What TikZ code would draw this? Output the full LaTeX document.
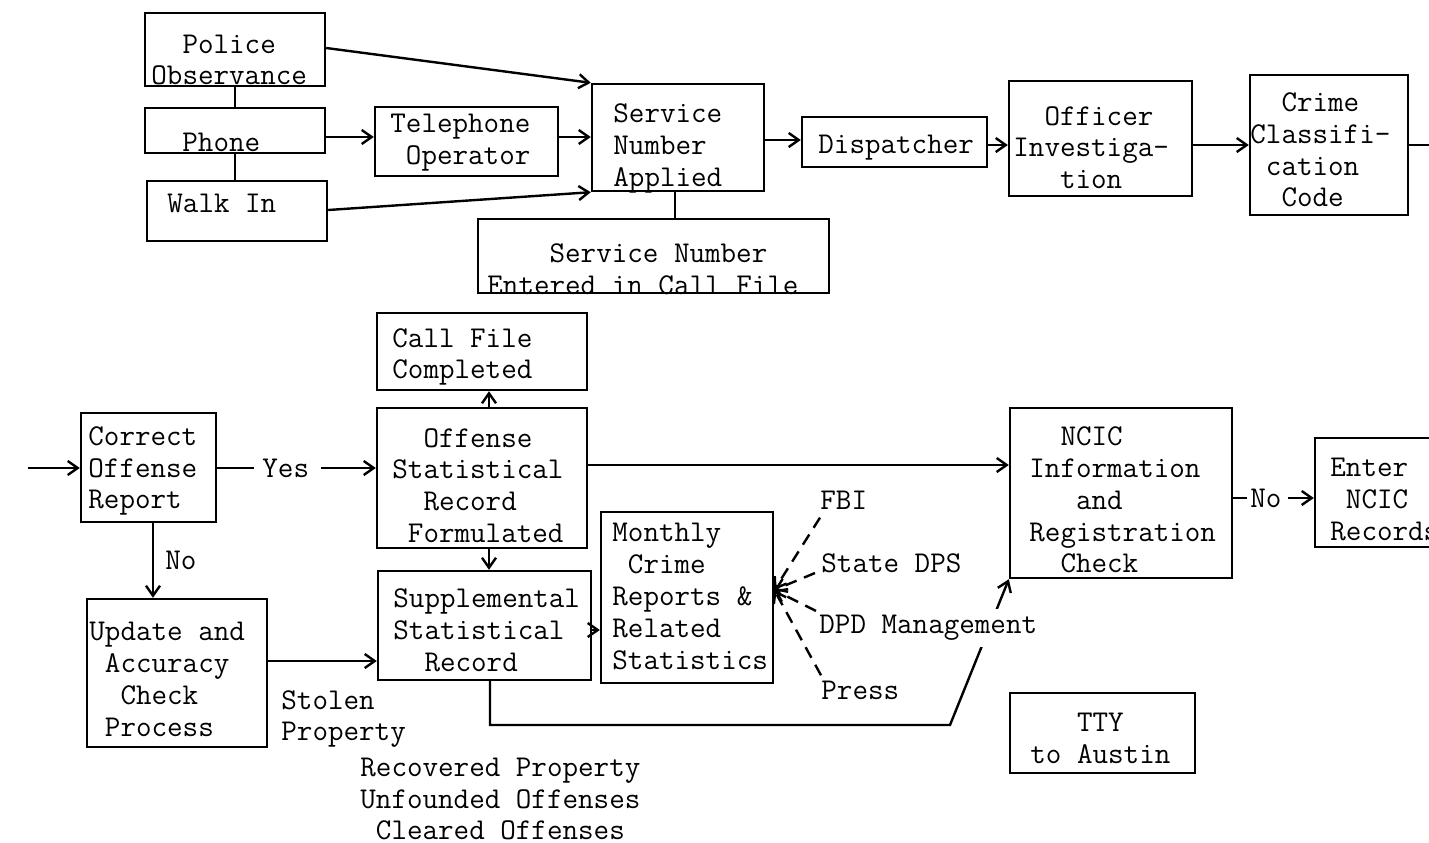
\documentclass[tikz,border=0pt]{standalone}
\usepackage{fontspec}
\usetikzlibrary{arrows.meta,fit}
\tikzset{
  box/.style={draw, line width=1.2pt, inner sep=0pt},
  txt/.style={font=\ttfamily\fontsize{15.1pt}{15.9pt}\selectfont, align=left, anchor=west, inner sep=0pt},
  conn/.style={line width=1.2pt},
  arr/.style={line width=1.2pt, -{Straight Barb[length=5pt,width=7pt]}},
  dasharr/.style={arr, dash pattern=on 6pt off 4pt},
}
\begin{document}
\begin{tikzpicture}[x=0.5pt,y=-0.5pt]
\fill[white] (0,0) rectangle (1429,842);
\useasboundingbox (0,0) rectangle (1429,842);

% ---------- boxes ----------
\node[box, fit={(145,13)(325,86)}] (police) {};
\node[box, fit={(145,108)(325,153)}] (phone) {};
\node[box, fit={(147,181)(327,241)}] (walk) {};
\node[box, fit={(375,107)(558,176)}] (telop) {};
\node[box, fit={(592,84)(764,191)}] (sna) {};
\node[box, fit={(478,219)(829,293)}] (snentered) {};
\node[box, fit={(802,117)(987,167)}] (disp) {};
\node[box, fit={(1009,81)(1192,196)}] (officer) {};
\node[box, fit={(1250,75)(1408,215)}] (crime) {};
\node[box, fit={(81,413)(216,522)}] (correct) {};
\node[box, fit={(377,313)(587,390)}] (callfile) {};
\node[box, fit={(377,408)(587,548)}] (offense) {};
\node[box, fit={(378,571)(591,680)}] (supp) {};
\node[box, fit={(601,512)(773,683)}] (monthly) {};
\node[box, fit={(87,599)(267,747)}] (update) {};
\node[box, fit={(1010,408)(1232,578)}] (ncic) {};
\node[box, fit={(1315,438)(1480,547)}] (enter) {};
\node[box, fit={(1010,693)(1195,773)}] (tty) {};

% ---------- texts ----------
\node[txt] (police-t) at (151,60) {\hphantom{xx}Police\\Observance};
\node[txt] (phone-t) at (182,142) {Phone};
\node[txt] (walk-t) at (167,203) {Walk In};
\node[txt] (telop-t) at (390,142.5) {Telephone\\\hphantom{x}Operator};
\node[txt] (sna-t) at (613,148.5) {Service\\Number\\Applied};
\node[txt] (snentered-t) at (487,269) {\hphantom{xxxx}Service Number\\Entered in Call File};
\node[txt] (disp-t) at (818,148) {Dispatcher};
\node[txt] (officer-t) at (1013,147.5) {\hphantom{xx}Officer\\Investiga-\\\hphantom{xxx}tion};
\node[txt] (crime-t) at (1250,150) {\hphantom{xx}Crime\\Classifi-\\\hphantom{x}cation\\\hphantom{xx}Code};
\node[txt] (correct-t) at (88,471) {Correct\\Offense\\Report};
\node[txt] (callfile-t) at (392,357) {Call File\\Completed};
\node[txt] (offense-t) at (392,485.5) {\hphantom{xx}Offense\\Statistical\\\hphantom{xx}Record\\\hphantom{x}Formulated};
\node[txt] (supp-t) at (393,630) {Supplemental\\Statistical\\\hphantom{xx}Record};
\node[txt] (update-t) at (89,679.5) {Update and\\\hphantom{x}Accuracy\\\hphantom{xx}Check\\\hphantom{x}Process};
\node[txt] (monthly-t) at (612,596.5) {Monthly\\\hphantom{x}Crime\\Reports \&\\Related\\Statistics};
\node[txt] (ncic-t) at (1029,500) {\hphantom{xx}NCIC\\Information\\\hphantom{xxx}and\\Registration\\\hphantom{xx}Check};
\node[txt] (enter-t) at (1330,499.5) {Enter\\\hphantom{x}NCIC\\Records};
\node[txt] (tty-t) at (1030,738.5) {\hphantom{xxx}TTY\\to Austin};
\node[txt] (stolen-t) at (281,719) {Stolen\\Property};
\node[txt] (recovered-t) at (360,799) {Recovered Property\\Unfounded Offenses\\\hphantom{x}Cleared Offenses};

% ---------- top connectors ----------
\draw[conn] (police.south) -- (phone.north);
\draw[conn] (phone.south) -- (phone.south |- walk.north);
\draw[arr] (phone.east |- 0,137) -- (telop.west |- 0,137);
\draw[arr] (police.east |- 0,48) -- (sna.north west);
\draw[arr] (telop.east |- 0,137) -- (sna.west |- 0,137);
\draw[arr] (walk.east |- 0,210) -- (sna.south west);
\draw[conn] (sna.south -| 675,0) -- (snentered.north -| 675,0);
\draw[arr] (sna.east |- 0,140) -- (disp.west |- 0,140);
\draw[arr] (disp.east |- 0,145) -- (officer.west |- 0,145);
\draw[arr] (officer.east |- 0,145) -- (crime.west |- 0,145);
\coordinate (crimeout) at (1440,145);
\draw[conn] (crime.east |- crimeout) -- (crimeout);

% ---------- bottom connectors ----------
\coordinate (corrin) at (28,468);
\draw[arr] (corrin) -- (correct.west |- corrin);
\node[txt] (yes) at (262,468) {Yes};
\draw[conn] (correct.east |- yes.west) -- ([xshift=-4pt]yes.west);
\draw[arr] ([xshift=6pt]yes.east) -- (offense.west |- yes.east);
\draw[arr] (correct.south -| 153,0) -- (update.north -| 153,0);
\node[txt] (no1) at (165,560) {No};
\draw[arr] (offense.north -| 489,0) -- (callfile.south -| 489,0);
\draw[arr] (offense.south -| 489,0) -- (supp.north -| 489,0);
\draw[arr] (offense.east |- 0,465) -- (ncic.west |- 0,465);
\draw[arr] (update.east |- 0,661) -- (supp.west |- 0,661);
\draw[arr] (supp.east |- 0,630) -- (monthly.west |- 0,630);
\coordinate (suppturn) at (950,725);
\draw[arr] (supp.south -| 490,0) |- (suppturn) -- (ncic.south west);
\node[txt] (no2) at (1250,498) {No};
\draw[conn] (ncic.east |- no2.west) -- ([xshift=-1.5pt]no2.west);
\draw[arr] ([xshift=3pt]no2.east) -- (enter.west |- no2.east);

% ---------- distribution ----------
\node[txt] (fbi) at (820,500) {FBI};
\node[txt] (state) at (821,563) {State DPS};
\node[txt, fill=white, inner ysep=3pt] (dpd) at (819,628) {DPD Management};
\node[txt] (press) at (821,690) {Press};
\coordinate (mtip) at (monthly.east |- 0,590);
\draw[dasharr] ([shift={(0,8)}]fbi.south west) -- (mtip);
\draw[dasharr] ([shift={(-6,0)}]state.south west) -- (mtip);
\draw[dasharr] ([shift={(-3,2)}]dpd.north west) -- (mtip);
\draw[dasharr] ([shift={(0,-5)}]press.north west) -- (mtip);
\end{tikzpicture}
\end{document}
